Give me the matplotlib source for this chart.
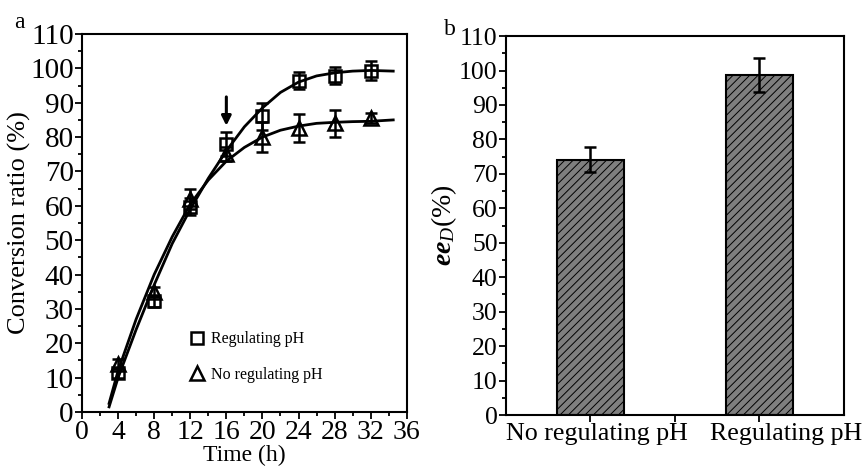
import matplotlib.pyplot as plt
from matplotlib.lines import Line2D
from matplotlib.ticker import MultipleLocator
from matplotlib.transforms import ScaledTranslation

plt.rcParams['font.family'] = ['Liberation Serif', 'DejaVu Serif']
plt.rcParams['hatch.linewidth'] = 0.7
plt.rcParams['mathtext.fontset'] = 'custom'
plt.rcParams['mathtext.rm'] = 'Liberation Serif'
plt.rcParams['mathtext.it'] = 'Liberation Serif:italic'
plt.rcParams['mathtext.bf'] = 'Liberation Serif:bold'
plt.rcParams['mathtext.bfit'] = 'Liberation Serif:bold:italic'

# measured points (time in h, conversion in %)
time_h = [4, 8, 12, 16, 20, 24, 28, 32]
reg_conv = [11.3, 32.2, 59.8, 78.0, 86.0, 96.4, 97.9, 99.3]
reg_err = [1.5, 1.5, 2.5, 3.5, 4.0, 2.5, 2.5, 2.7]
noreg_conv = [14.0, 35.0, 62.0, 75.0, 80.0, 82.6, 84.0, 85.5]
noreg_err = [1.5, 1.5, 3.0, 2.0, 4.3, 4.0, 4.0, 1.5]

# fitted curves
fit_t = [3, 4, 6, 8, 10, 12, 14, 16, 18, 20, 22, 24, 26, 28, 30, 32, 34.5]
reg_fit = [1.5, 10, 24, 37, 49, 59, 68, 76, 83, 88.5, 93, 96, 97.8, 98.7, 99.2, 99.4, 99.2]
noreg_fit = [2.5, 12, 27, 40, 51, 60.5, 67.5, 73, 77, 80, 82, 83.2, 84, 84.3, 84.5, 84.6, 85]

# ee values
groups = ['No regulating pH', 'Regulating pH']
ee = [74.1, 98.6]
ee_err = [3.7, 4.9]

fig = plt.figure(figsize=(8.66, 4.69), dpi=100)
ax1 = fig.add_axes([0.0947, 0.1215, 0.375, 0.806])
ax2 = fig.add_axes([0.5843, 0.1151, 0.390, 0.808])

for ax in (ax1, ax2):
    for s in ax.spines.values():
        s.set_linewidth(1.5)
    ax.tick_params(direction='out', which='both', width=1.3, top=False, right=False)
    ax.tick_params(which='major', length=5)
    ax.tick_params(which='minor', length=3)

# panel a
ax1.plot(fit_t, reg_fit, color='k', lw=2)
ax1.plot(fit_t, noreg_fit, color='k', lw=2)
ax1.errorbar(time_h, reg_conv, yerr=reg_err, fmt='s', ms=9, mfc='none', mec='k', mew=1.8,
             ecolor='k', elinewidth=1.8, capsize=4, capthick=1.8)
ax1.errorbar(time_h, noreg_conv, yerr=noreg_err, fmt='^', ms=10, mfc='none', mec='k', mew=1.8,
             ecolor='k', elinewidth=1.8, capsize=4, capthick=1.8)
ax1.annotate('', xy=(16, 82.5), xytext=(16, 92.5),
             arrowprops=dict(arrowstyle='-|>', color='k', lw=2.2, mutation_scale=14))
ax1.set_xlim(0, 36)
ax1.set_ylim(0, 110)
ax1.xaxis.set_major_locator(MultipleLocator(4))
ax1.xaxis.set_minor_locator(MultipleLocator(2))
ax1.yaxis.set_major_locator(MultipleLocator(10))
ax1.yaxis.set_minor_locator(MultipleLocator(5))
ax1.tick_params(labelsize=21, pad=1)
ax1.tick_params(axis='x', labelsize=20, pad=0.5)
ax1.set_xlabel('Time (h)', fontsize=17)
ax1.xaxis.set_label_coords(0.5, -0.088)
ax1.set_ylabel('Conversion ratio (%)', fontsize=19)
ax1.yaxis.set_label_coords(-0.157, 0.5)
handles = [Line2D([], [], ls='none', marker='s', ms=9, mfc='none', mec='k', mew=1.8),
           Line2D([], [], ls='none', marker='^', ms=10, mfc='none', mec='k', mew=1.8)]
ax1.legend(handles, ['Regulating pH', 'No regulating pH'], frameon=False, fontsize=11.5,
           loc='lower left', bbox_to_anchor=(0.28, 0.04), handletextpad=0.3,
           labelspacing=1.2, handlelength=1.2)
fig.text(0.016, 0.94, 'a', fontsize=17)

# panel b
pos = [1, 2]
ax2.bar(pos, ee, width=0.4, color='#7f7f7f', edgecolor='k', lw=1.5, hatch='////')
ax2.errorbar(pos, ee, yerr=ee_err, fmt='none', ecolor='k', elinewidth=1.8, capsize=4, capthick=1.8)
ax2.set_xlim(0.5, 2.5)
ax2.set_ylim(0, 110)
ax2.set_xticks(pos)
ax2.set_xticklabels(groups)
ax2.set_xticks([1.5], minor=True)
ax2.tick_params(axis='x', which='minor', length=5)
ax2.yaxis.set_major_locator(MultipleLocator(10))
ax2.yaxis.set_minor_locator(MultipleLocator(5))
ax2.tick_params(labelsize=18.5, pad=1)
ax2.tick_params(axis='x', labelsize=18.7)
# shift the category labels a little to the right
for lbl, dx in zip(ax2.get_xticklabels(), [6, 27]):
    lbl.set_transform(lbl.get_transform() + ScaledTranslation(dx / 100, 0, fig.dpi_scale_trans))
ax2.set_ylabel(r'$\mathbfit{ee}_{\mathit{D}}$(%)', fontsize=20, labelpad=0)
fig.text(0.513, 0.925, 'b', fontsize=17)

fig.savefig('out.png', dpi=100)
